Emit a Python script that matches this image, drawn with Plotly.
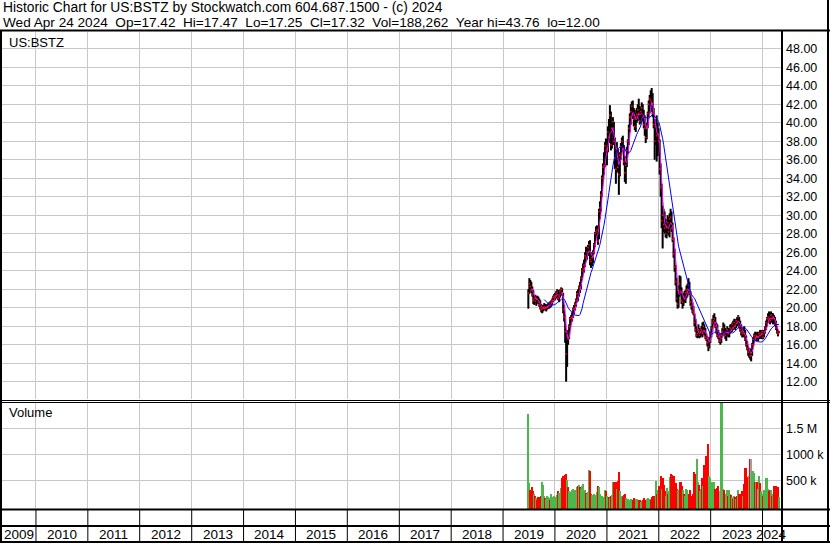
import pandas as pd
import plotly.graph_objects as go

# ---------------- data (weekly bars) ----------------
first_week = "2019-06-28"

week_high = [
    # 2019
    22.0, 23.2, 23.0, 22.8, 22.3, 21.9, 21.3, 21.4, 21.2, 21.3, 21.2, 21.0, 20.8, 20.4,
    20.2, 20.3, 20.5, 20.4, 20.3, 20.4, 20.5, 20.6, 20.7, 20.8, 21.0, 21.3, 21.5,
    # 2020
    21.6, 21.8, 22.0, 21.9, 21.5, 22.0, 22.2, 22.1, 21.6, 20.3, 19.2, 17.6, 17.4, 17.6,
    18.2, 19.0, 19.2, 19.5, 20.0, 20.3, 20.6, 21.0, 21.8, 22.0, 22.4, 22.8, 23.4, 24.3,
    24.8, 25.2, 26.0, 26.6, 26.4, 26.8, 27.2, 27.3, 25.8, 26.0, 26.2, 27.0, 28.2, 28.8,
    28.9, 28.6, 30.7, 31.5, 32.6, 34.3, 35.6, 36.8, 37.9, 38.3,
    # 2021
    38.0, 39.6, 40.4, 41.9, 41.2, 39.8, 40.6, 40.1, 38.4, 37.0, 37.9, 37.2, 35.6, 36.8,
    37.8, 38.4, 38.6, 37.6, 36.4, 35.8, 37.4, 38.2, 39.8, 41.0, 42.0, 42.3, 42.4, 41.6,
    41.4, 41.0, 41.6, 42.0, 42.6, 41.8, 41.6, 42.2, 42.0, 41.4, 40.8, 39.6, 40.0, 41.2,
    42.4, 43.0, 43.5, 43.76, 43.2, 41.6, 40.4, 40.2, 40.8, 40.0, 39.4,
    # 2022
    38.2, 35.6, 33.4, 31.0, 30.7, 30.4, 29.6, 29.2, 30.0, 29.8, 30.2, 30.7, 30.4, 29.2,
    27.6, 26.4, 24.6, 23.2, 21.8, 22.4, 23.5, 23.4, 22.2, 21.4, 21.6, 21.8, 21.9, 22.4,
    22.6, 23.2, 22.8, 21.8, 21.0, 20.6, 20.2, 19.4, 18.8, 18.0, 17.8, 18.2, 17.8, 17.6,
    18.0, 18.4, 18.5, 18.2, 17.8, 17.2, 16.9, 16.6, 16.8, 17.4,
    # 2023
    18.0, 18.8, 19.2, 19.4, 19.0, 18.4, 18.2, 17.6, 17.2, 16.8, 17.2, 17.8, 18.4, 18.2,
    17.8, 17.6, 18.0, 17.8, 17.8, 18.2, 18.2, 18.4, 18.6, 18.8, 18.6, 18.8, 19.0, 19.2,
    19.0, 18.6, 18.2, 17.8, 17.8, 18.0, 17.6, 17.0, 16.4, 15.8, 15.6, 15.6, 15.4, 16.2,
    16.8, 17.2, 17.4, 17.2, 17.4, 17.2, 17.4, 17.6, 17.4, 17.6,
    # 2024
    17.4, 17.6, 18.0, 18.6, 19.0, 19.4, 19.6, 19.4, 19.6, 19.4, 19.4, 19.2, 19.0, 18.6,
    18.0, 17.6, 17.47,
]

week_low = [
    # 2019
    19.9, 21.5, 22.0, 21.6, 21.2, 20.4, 20.3, 20.5, 20.2, 20.5, 20.4, 20.1, 19.8, 19.5,
    19.4, 19.6, 19.8, 19.7, 19.6, 19.8, 19.9, 19.9, 20.0, 20.1, 20.3, 20.6, 20.8,
    # 2020
    20.8, 21.0, 21.2, 20.8, 20.6, 21.1, 21.5, 21.3, 19.4, 18.5, 16.2, 12.0, 13.6, 16.0,
    16.6, 17.6, 18.2, 18.5, 18.9, 19.3, 19.7, 20.1, 20.6, 20.7, 21.2, 21.6, 22.0, 23.0,
    23.6, 23.8, 24.4, 25.0, 25.2, 25.6, 26.0, 24.6, 24.3, 24.5, 24.8, 25.8, 26.6, 27.6,
    27.8, 26.8, 27.4, 29.6, 30.4, 32.0, 33.6, 34.4, 35.2, 36.4,
    # 2021
    35.4, 36.8, 37.8, 38.2, 37.0, 37.2, 38.8, 37.6, 35.0, 33.4, 34.6, 34.8, 32.2, 34.2,
    36.0, 36.8, 36.9, 35.4, 33.6, 33.4, 35.2, 36.6, 37.6, 39.0, 39.8, 40.6, 40.4, 39.6,
    39.2, 39.0, 40.0, 40.2, 40.6, 39.8, 40.0, 40.6, 40.2, 39.4, 38.6, 37.8, 38.2, 39.4,
    40.6, 41.0, 41.8, 41.2, 40.6, 39.4, 36.0, 37.6, 35.8, 36.4, 37.0,
    # 2022
    34.4, 32.0, 28.6, 26.4, 28.2, 28.0, 27.6, 27.5, 28.0, 27.8, 27.6, 28.6, 28.2, 27.1,
    25.4, 23.9, 22.4, 20.6, 19.9, 20.0, 21.2, 21.4, 20.4, 19.9, 20.2, 20.6, 20.5, 21.0,
    21.2, 21.6, 21.4, 20.2, 19.8, 19.4, 19.2, 18.0, 17.4, 16.8, 16.7, 16.8, 16.7, 16.8,
    17.0, 16.8, 17.2, 17.0, 16.6, 16.4, 15.8, 15.3, 15.6, 16.2,
    # 2023
    16.8, 17.4, 18.0, 18.2, 17.8, 17.2, 16.8, 16.6, 16.2, 16.0, 16.2, 16.8, 17.0, 17.0,
    16.6, 16.4, 17.0, 16.8, 16.8, 17.2, 17.4, 17.4, 17.6, 17.8, 17.6, 17.8, 18.0, 18.2,
    17.8, 17.4, 17.0, 16.8, 16.8, 17.0, 16.4, 15.8, 15.4, 14.8, 14.6, 14.4, 14.2, 14.8,
    15.8, 16.2, 16.4, 16.4, 16.6, 16.4, 16.6, 16.8, 16.6, 16.8,
    # 2024
    16.6, 16.8, 17.2, 17.6, 18.0, 18.4, 18.4, 18.2, 18.4, 18.4, 18.2, 18.4, 18.0, 17.6,
    17.2, 16.9, 17.25,
]

week_close = [
    # 2019
    21.6, 22.6, 22.3, 21.9, 21.4, 20.8, 21.0, 20.7, 21.0, 20.9, 20.6, 20.3, 20.0, 19.8,
    19.9, 20.0, 20.1, 19.9, 20.0, 20.1, 20.2, 20.4, 20.3, 20.6, 20.8, 21.1, 21.2,
    # 2020
    21.3, 21.5, 21.7, 21.0, 21.2, 21.8, 22.0, 21.6, 19.8, 19.0, 17.4, 15.0, 17.0, 16.8,
    18.0, 18.8, 18.9, 19.0, 19.8, 19.9, 20.4, 20.8, 21.5, 21.2, 22.2, 22.0, 23.2, 24.0,
    24.2, 24.6, 25.6, 25.4, 26.0, 26.5, 26.8, 25.2, 25.0, 25.4, 26.0, 26.8, 28.0, 28.2,
    28.4, 27.2, 30.4, 30.8, 32.2, 34.0, 35.2, 35.4, 37.5, 37.0,
    # 2021
    37.2, 39.0, 38.4, 40.8, 37.6, 39.4, 40.1, 38.0, 36.2, 35.0, 37.2, 35.2, 34.4, 36.5,
    37.4, 38.0, 37.2, 35.8, 34.6, 35.4, 37.0, 38.0, 39.4, 40.6, 41.2, 41.8, 40.8, 40.4,
    39.6, 40.6, 40.9, 41.4, 41.0, 40.2, 41.2, 41.6, 40.6, 39.8, 39.4, 38.4, 39.6, 41.0,
    42.0, 42.6, 42.4, 42.0, 41.0, 39.8, 38.0, 39.6, 38.6, 38.8, 38.0,
    # 2022
    35.0, 33.0, 29.4, 30.0, 29.0, 28.6, 28.0, 28.8, 29.2, 28.2, 29.6, 29.8, 28.6, 27.4,
    25.8, 24.4, 22.8, 21.0, 20.4, 21.8, 22.6, 21.8, 20.8, 20.6, 21.2, 21.0, 21.6, 21.8,
    22.0, 22.4, 21.6, 20.6, 20.2, 19.6, 19.4, 18.4, 17.6, 17.0, 17.2, 17.6, 17.0, 17.4,
    17.6, 17.2, 18.0, 17.4, 16.8, 16.6, 16.2, 15.8, 16.4, 17.2,
    # 2023
    17.8, 18.4, 18.6, 18.8, 18.0, 17.4, 17.0, 16.8, 16.4, 16.4, 17.0, 17.4, 17.8, 17.2,
    17.0, 17.4, 17.6, 17.2, 17.4, 17.8, 17.6, 18.2, 17.8, 18.4, 18.0, 18.6, 18.4, 19.0,
    18.0, 17.6, 17.4, 17.2, 17.4, 17.2, 16.6, 16.0, 15.6, 15.2, 15.4, 14.8, 14.8, 16.0,
    16.6, 17.0, 16.8, 17.0, 16.8, 16.8, 17.2, 17.0, 17.2, 17.4,
    # 2024
    16.8, 17.4, 17.8, 18.4, 18.8, 19.0, 18.8, 18.6, 19.2, 18.8, 19.0, 18.8, 18.2, 17.8,
    17.4, 17.2, 17.32,
]

# tallest visible volume bar in each weekly column, thousands of shares
week_volume_k = [
    1775, 454, 330, 327, 389, 300, 250, 200, 160, 140,
    180, 190, 170, 200, 481, 420, 200, 170, 150, 210,
    180, 160, 140, 250, 190, 170, 200, 150, 180, 220,
    300, 260, 230, 370, 550, 600, 560, 620, 640, 520,
    380, 300, 280, 250, 330, 350, 300, 330, 310, 380,
    400, 420, 380, 350, 400, 430, 300, 330, 270, 250,
    280, 700, 690, 250, 230, 220, 250, 230, 210, 280,
    400, 380, 250, 180, 200, 160, 190, 320, 300, 200,
    150, 180, 160, 200, 220, 480, 470, 300, 480, 350,
    500, 660, 300, 150, 200, 180, 220, 250, 160, 120,
    150, 100, 130, 150, 110, 140, 160, 100, 150, 150,
    120, 130, 140, 100, 110, 130, 170, 130, 120, 150,
    160, 120, 150, 130, 180, 200, 190, 200, 487, 250,
    330, 400, 280, 590, 560, 350, 550, 420, 300, 200,
    360, 250, 300, 580, 640, 610, 300, 600, 460, 460,
    350, 330, 250, 480, 470, 400, 330, 250, 200, 340,
    330, 200, 250, 330, 200, 180, 250, 660, 640, 600,
    910, 480, 420, 300, 350, 560, 400, 800, 500, 980,
    700, 1200, 600, 550, 480, 300, 470, 480, 350, 250,
    360, 400, 250, 300, 2300, 2300, 350, 330, 200, 250,
    330, 200, 330, 250, 230, 180, 150, 200, 180, 150,
    200, 330, 250, 200, 250, 300, 200, 440, 740, 740,
    580, 300, 590, 920, 920, 680, 680, 650, 480, 480,
    480, 350, 590, 460, 300, 250, 200, 330, 300, 550,
    550, 340, 300, 330, 330, 200, 250, 400, 400, 400,
    380, 380, 188,
]

year_labels = list(range(2009, 2025))
price_ticks = list(range(12, 50, 2))
volume_tick_vals = [500_000, 1_000_000, 1_500_000]
volume_tick_text = ["500 k", "1000 k", "1.5 M"]

title_line1 = "Historic Chart for US:BSTZ by Stockwatch.com 604.687.1500 - (c) 2024"
title_line2 = ("Wed Apr 24 2024  Op=17.42  Hi=17.47  Lo=17.25  Cl=17.32  "
               "Vol=188,262  Year hi=43.76  lo=12.00")
symbol_label = "US:BSTZ"

fast_ma_weeks = 4
slow_ma_weeks = 17

# ---------------- layout geometry (pixels) ----------------
W, H = 830, 543
X_LEFT, X_RIGHT = 2, 781          # plot area horizontally
P_TOP, P_BOT = 32, 399            # price panel
V_TOP, V_BOT = 402.5, 509         # volume panel
ROW1_BOT, ROW2_BOT = 526, 542     # year label rows
date_start, date_end = "2009-05-07", "2024-05-10"
price_range = [10.13, 49.81]
vol_range = [-52_000, 1_996_000]

FONT = "Arial, 'Liberation Sans', sans-serif"
GRID = "#c8c8c8"


def px(x):
    return x / W


def py(y):
    return 1 - y / H


dates = pd.date_range(first_week, periods=len(week_close), freq="W-FRI")
close_s = pd.Series(week_close, index=dates)
ma_fast = close_s.rolling(fast_ma_weeks).mean()
ma_slow = close_s.rolling(slow_ma_weeks).mean()

bar_x, bar_y = [], []
for d, lo, hi in zip(dates, week_low, week_high):
    bar_x += [d, d, None]
    bar_y += [lo, hi, None]

vol = [v * 1000 for v in week_volume_k]
chg = close_s.diff().fillna(1.0)
vol_colors = ["#4cb84c" if c > 0 else ("#ff0000" if c < 0 else "#a0a0a0") for c in chg]

fig = go.Figure()
fig.add_trace(go.Bar(
    x=dates, y=[v - vol_range[0] for v in vol], base=vol_range[0],
    marker=dict(color=vol_colors, line=dict(width=0)),
    width=9 * 24 * 3600 * 1000, xaxis="x2", yaxis="y2", hoverinfo="skip"))
fig.add_trace(go.Scatter(x=bar_x, y=bar_y, mode="lines",
                         line=dict(color="black", width=2), hoverinfo="skip"))
fig.add_trace(go.Scatter(x=dates, y=week_close, mode="markers",
                         marker=dict(symbol="square", size=1.6, color="#ff0000",
                                     line=dict(width=0)), hoverinfo="skip"))
fig.add_trace(go.Scatter(x=dates, y=ma_fast, mode="lines",
                         line=dict(color="#ff00ff", width=1), hoverinfo="skip"))
fig.add_trace(go.Scatter(x=dates, y=ma_slow, mode="lines",
                         line=dict(color="#0000ff", width=1), hoverinfo="skip"))

xcommon = dict(type="date", range=[date_start, date_end], domain=[px(X_LEFT), px(X_RIGHT)],
               showgrid=True, gridcolor=GRID, gridwidth=1, dtick="M12", tick0="2010-01-01",
               showticklabels=False, ticks="", zeroline=False, showline=False)

fig.update_layout(
    width=W, height=H, margin=dict(l=0, r=0, t=0, b=0),
    paper_bgcolor="white", plot_bgcolor="white", showlegend=False, hovermode=False,
    font=dict(family=FONT, color="black", size=12),
    bargap=0,
    xaxis=dict(anchor="y", **xcommon),
    xaxis2=dict(anchor="y2", matches="x", **xcommon),
    yaxis=dict(domain=[py(P_BOT), py(P_TOP)], range=price_range, side="right", anchor="x",
               tickvals=price_ticks, tickformat=".2f", showgrid=True, gridcolor=GRID,
               gridwidth=1, ticks="", zeroline=False, showline=False, ticklabelstandoff=4,
               tickfont=dict(size=12.5, family=FONT, color="black")),
    yaxis2=dict(domain=[py(V_BOT), py(V_TOP)], range=vol_range, side="right", anchor="x2",
                tickvals=volume_tick_vals, ticktext=volume_tick_text, showgrid=True,
                gridcolor=GRID, gridwidth=1, ticks="", zeroline=False, showline=False,
                ticklabelstandoff=4,
                tickfont=dict(size=12.5, family=FONT, color="black")),
)

# frame lines
shapes = []


def hline(y, x0=0, x1=W, w=2):
    shapes.append(dict(type="line", xref="paper", yref="paper", x0=px(x0), x1=px(x1),
                       y0=py(y), y1=py(y), line=dict(color="black", width=w)))


def vline(x, y0, y1, w=2):
    shapes.append(dict(type="line", xref="paper", yref="paper", x0=px(x), x1=px(x),
                       y0=py(y0), y1=py(y1), line=dict(color="black", width=w)))


hline(30.5)
hline(400.5, w=1.2)
hline(402.5, w=1.2)
hline(509.5)
hline(ROW1_BOT)
hline(ROW2_BOT)
vline(1, 30, H)
vline(782, 30, H)
vline(828, 0, H)

# year separators in the two date rows + centred labels
d0, d1 = pd.Timestamp(date_start), pd.Timestamp(date_end)
annotations = []
for yr in year_labels:
    start = max(pd.Timestamp(f"{yr}-01-01"), d0)
    end = min(pd.Timestamp(f"{yr + 1}-01-01"), d1)
    if pd.Timestamp(f"{yr}-01-01") > d0:
        shapes.append(dict(type="line", xref="x", yref="paper", x0=start, x1=start,
                           y0=py(509.5), y1=py(ROW2_BOT), line=dict(color="black", width=1)))
    mid = start + (end - start) / 2
    annotations.append(dict(x=mid, y=py(534.5), xref="x", yref="paper", text=str(yr),
                            showarrow=False, xanchor="center", yanchor="middle",
                            font=dict(size=13.5, family=FONT, color="black")))

annotations += [
    dict(x=px(1), y=py(7.5), xref="paper", yref="paper", text=title_line1.replace("  ", "\u00a0\u00a0"),
         showarrow=False, xanchor="left", yanchor="middle", font=dict(size=13.8, family=FONT)),
    dict(x=px(1), y=py(22.5), xref="paper", yref="paper", text=title_line2.replace("  ", "\u00a0\u00a0"),
         showarrow=False, xanchor="left", yanchor="middle", font=dict(size=13.6, family=FONT)),
    dict(x=px(7), y=py(42), xref="paper", yref="paper", text=symbol_label,
         showarrow=False, xanchor="left", yanchor="middle", font=dict(size=13, family=FONT)),
    dict(x=px(7), y=py(413), xref="paper", yref="paper", text="Volume",
         showarrow=False, xanchor="left", yanchor="middle", font=dict(size=13, family=FONT)),
]

fig.update_layout(shapes=shapes, annotations=annotations)
fig.write_html("out.html", config={"displayModeBar": False},
               post_script="document.body.style.margin='0';document.body.style.overflow='hidden';")
